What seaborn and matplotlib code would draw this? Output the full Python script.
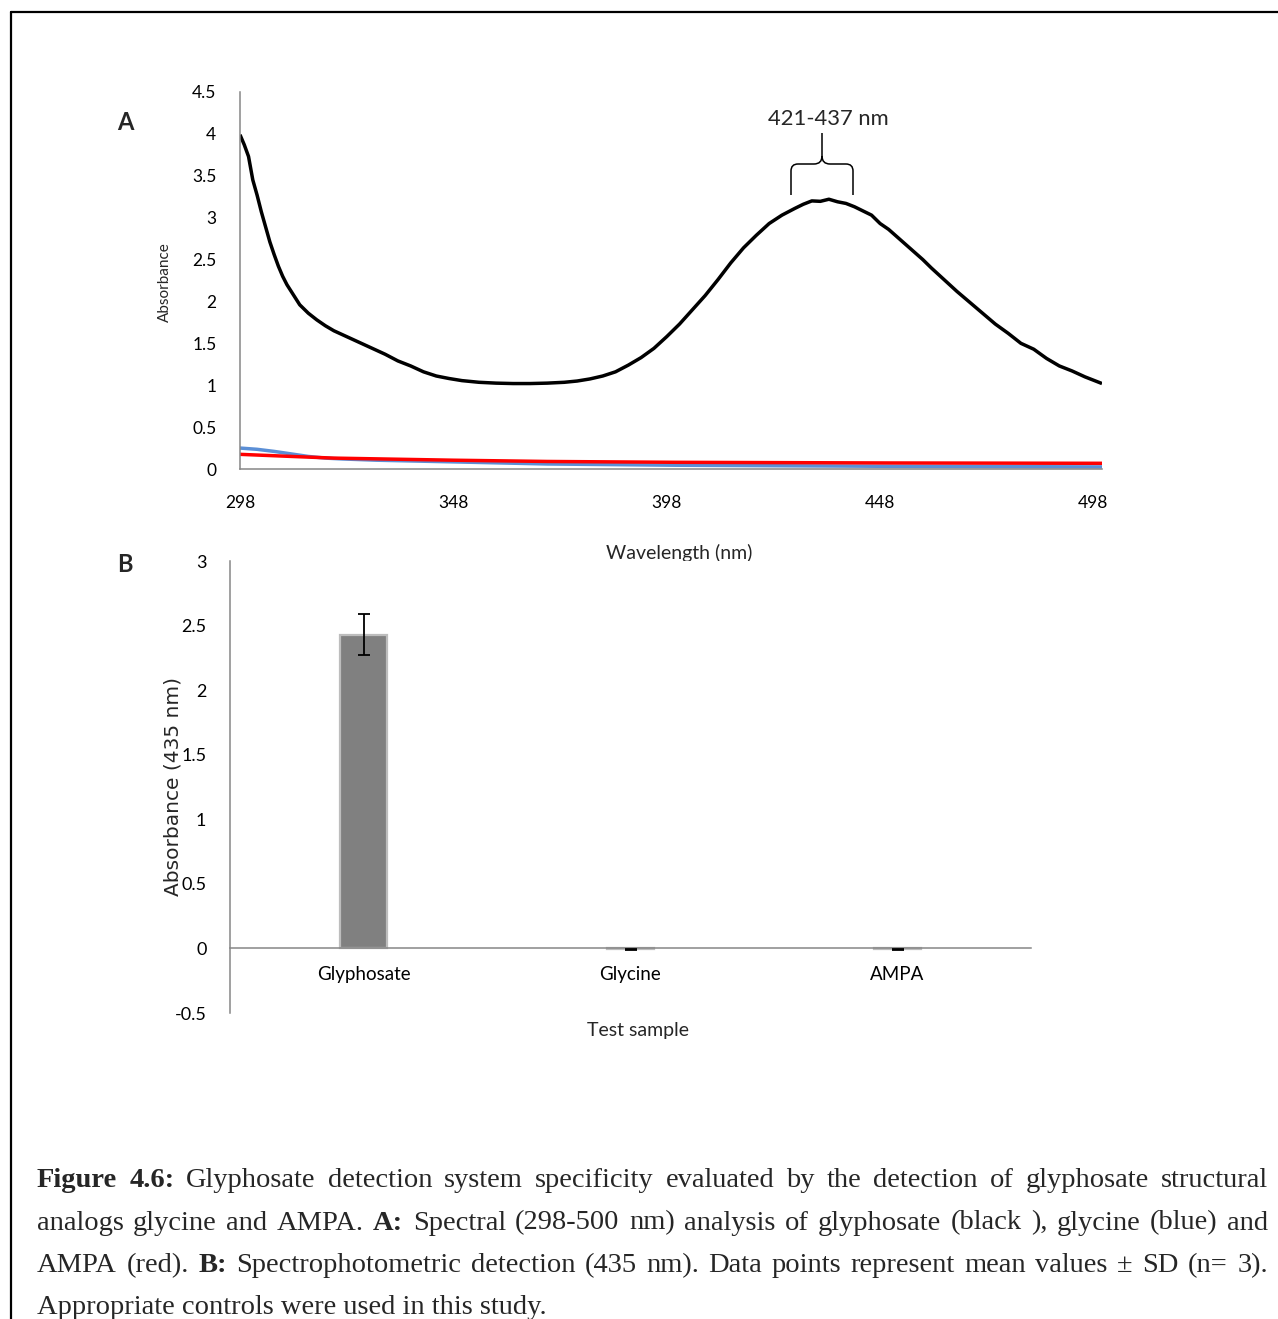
import numpy as np
import pandas as pd
import matplotlib
matplotlib.use("Agg")
import matplotlib.pyplot as plt
import seaborn as sns
from matplotlib.path import Path
from matplotlib.patches import PathPatch
from matplotlib.lines import Line2D

# ---------------- data ----------------
glyphosate_wl = [298, 299, 300, 301, 302, 303, 304, 305, 306, 307, 308, 309, 310, 311, 312, 314, 316,
                 318, 320, 323, 326, 329, 332, 335, 338, 341, 344, 347, 350, 354, 358, 362, 366,
                 370, 374, 377, 380, 383, 386, 389, 392, 395, 398, 401, 404, 407, 410, 413, 416,
                 419, 422, 425, 428, 430, 432, 434, 436, 438, 440, 442, 444, 446, 448, 450, 452,
                 454, 456, 458, 460, 463, 466, 469, 472, 475, 478, 481, 484, 487, 490, 493, 496,
                 499, 500]
glyphosate_abs = [3.99, 3.87, 3.73, 3.45, 3.27, 3.07, 2.89, 2.71, 2.56, 2.42, 2.30, 2.20, 2.12, 2.04,
                  1.96, 1.86, 1.78, 1.71, 1.65, 1.58, 1.51, 1.44, 1.37, 1.29, 1.23, 1.16, 1.11, 1.08,
                  1.055, 1.035, 1.025, 1.02, 1.02, 1.025, 1.035, 1.05, 1.075, 1.11, 1.16, 1.24, 1.33,
                  1.44, 1.58, 1.73, 1.90, 2.07, 2.26, 2.46, 2.64, 2.79, 2.93, 3.03, 3.11, 3.16, 3.20,
                  3.195, 3.22, 3.19, 3.17, 3.13, 3.08, 3.03, 2.93, 2.86, 2.77, 2.68, 2.59, 2.50, 2.40,
                  2.26, 2.12, 1.99, 1.86, 1.73, 1.62, 1.50, 1.43, 1.32, 1.23, 1.17, 1.10, 1.04, 1.02]
glycine_wl = [298, 302, 306, 310, 314, 318, 322, 330, 348, 370, 400, 450, 500]
glycine_abs = [0.25, 0.235, 0.21, 0.18, 0.15, 0.13, 0.12, 0.105, 0.085, 0.06, 0.045, 0.032, 0.025]
ampa_wl = [298, 310, 320, 348, 370, 400, 450, 500]
ampa_abs = [0.175, 0.15, 0.13, 0.105, 0.09, 0.08, 0.072, 0.068]

wl_ticks = [298, 348, 398, 448, 498]
absA_ticks = [0, 0.5, 1, 1.5, 2, 2.5, 3, 3.5, 4, 4.5]
absA_labels = ["0", "0.5", "1", "1.5", "2", "2.5", "3", "3.5", "4", "4.5"]

samples = ["Glyphosate", "Glycine", "AMPA"]
sample_mean = [2.43, -0.008, -0.008]
sample_sd = [0.16, 0.003, 0.006]
absB_ticks = [-0.5, 0, 0.5, 1, 1.5, 2, 2.5, 3]
absB_labels = ["-0.5", "0", "0.5", "1", "1.5", "2", "2.5", "3"]

caption_lines = [
    ([("Figure", "bold"), ("4.6:", "bold")] +
     [(w, "normal") for w in "Glyphosate detection system specificity evaluated by the detection of glyphosate structural".split()], True),
    ([(w, "normal") for w in "analogs glycine and AMPA.".split()] + [("A:", "bold")] +
     [(w, "normal") for w in "Spectral (298-500 nm) analysis of glyphosate (black ), glycine (blue) and".split()], True),
    ([(w, "normal") for w in "AMPA (red).".split()] + [("B:", "bold")] +
     [(w, "normal") for w in "Spectrophotometric detection (435 nm). Data points represent mean values ± SD (n= 3).".split()], True),
    ([("Appropriate controls were used in this study.", "normal")], False),
]

# ---------------- style ----------------
sns.set_style("white")
plt.rcParams['font.family'] = ['Lato', 'DejaVu Sans']
W, H = 1278, 1319
fig = plt.figure(figsize=(W / 100, H / 100), dpi=100)
fig.patch.set_facecolor("white")

AXC = "#868686"


def style_axes(ax, fs):
    for s in ["top", "right"]:
        ax.spines[s].set_visible(False)
    for s in ["left", "bottom"]:
        ax.spines[s].set_color(AXC)
        ax.spines[s].set_linewidth(1.1)
    ax.tick_params(axis="both", which="both", direction="out", color=AXC, width=1.0,
                   length=5, labelsize=fs, labelcolor="black")
    ax.set_facecolor("white")


# ---------------- Panel A ----------------
axA = fig.add_axes([240 / W, 1 - 469 / H, 862 / W, 377 / H])
line_kw = dict(linewidth=2.5, solid_capstyle="butt", solid_joinstyle="round")
sns.lineplot(x=glycine_wl, y=glycine_abs, color="#5B8FD6", ax=axA, **line_kw)
sns.lineplot(x=ampa_wl, y=ampa_abs, color="#FF0000", ax=axA, **line_kw)
sns.lineplot(x=glyphosate_wl, y=glyphosate_abs, color="black", ax=axA, **line_kw)
axA.set_xlim(298, 500)
axA.set_ylim(0, 4.5)
style_axes(axA, 12.5)
axA.set_xticks(wl_ticks)
axA.set_xticklabels([str(t) for t in wl_ticks])
axA.set_yticks(absA_ticks)
axA.set_yticklabels(absA_labels)
axA.tick_params(axis="x", pad=14)
axA.tick_params(axis="y", pad=12)
axA.set_xlabel("Wavelength (nm)", fontsize=14)
axA.set_ylabel("Absorbance", fontsize=11)
axA.xaxis.set_label_coords(0.51, -0.223)
axA.xaxis.label.set_va("center")
axA.yaxis.set_label_coords(-0.087, 0.496)
axA.yaxis.label.set_va("center")

# ---------------- Panel B ----------------
axB = fig.add_axes([230 / W, 1 - 1013 / H, 801 / W, 452 / H])
dfB = pd.DataFrame({"sample": samples, "mean": sample_mean})
sns.barplot(data=dfB, x="sample", y="mean", color="#808080", width=0.176,
            edgecolor="#BDBDBD", linewidth=1.6, errorbar=None, saturation=1, ax=axB)
axB.errorbar(x=np.arange(len(samples)), y=sample_mean, yerr=sample_sd, fmt="none",
             ecolor="black", elinewidth=1.3, capsize=4, capthick=1.3, zorder=5)
axB.set_xlim(-0.5, 2.5)
axB.set_ylim(-0.5, 3)
style_axes(axB, 13)
axB.spines["bottom"].set_position(("data", 0))
axB.set_yticks(absB_ticks)
axB.set_yticklabels(absB_labels)
axB.set_xticks(np.arange(len(samples)))
axB.set_xticklabels(samples)
axB.set_xticks([-0.5, 0.5, 1.5, 2.5], minor=True)
axB.tick_params(axis="x", which="major", length=0, pad=13, labelsize=13.5)
axB.tick_params(axis="x", which="minor", length=5)
axB.tick_params(axis="y", pad=12)
axB.set_xlabel("Test sample", fontsize=14)
axB.set_ylabel("Absorbance (435 nm)", fontsize=14.5, family=["DejaVu Sans"])
axB.xaxis.set_label_coords(0.509, -0.038)
axB.xaxis.label.set_va("center")
axB.yaxis.set_label_coords(-0.071, 0.502)
axB.yaxis.label.set_va("center")

# ---------------- panel letters & annotation ----------------
fig.text(125 / W, 1 - 122 / H, "A", fontsize=17, fontweight="bold", ha="center", va="center")
fig.text(125 / W, 1 - 565 / H, "B", fontsize=17, fontweight="bold", ha="center", va="center")
fig.text(828 / W, 1 - 119 / H, "421-437 nm", fontsize=15.8, ha="center", va="center")


def P(x, y):
    return (x / W, 1 - y / H)


brace = [
    (Path.MOVETO, P(791, 195)), (Path.LINETO, P(791, 171)),
    (Path.CURVE3, P(791, 164)), (Path.CURVE3, P(798, 164)),
    (Path.LINETO, P(814, 164)),
    (Path.CURVE3, P(822, 164)), (Path.CURVE3, P(822, 156)),
    (Path.LINETO, P(822, 133)),
    (Path.MOVETO, P(822, 156)),
    (Path.CURVE3, P(822, 164)), (Path.CURVE3, P(830, 164)),
    (Path.LINETO, P(846, 164)),
    (Path.CURVE3, P(853, 164)), (Path.CURVE3, P(853, 171)),
    (Path.LINETO, P(853, 195)),
]
codes, verts = zip(*brace)
fig.add_artist(PathPatch(Path(verts, codes), facecolor="none", edgecolor="black",
                         lw=1.1, transform=fig.transFigure))

# ---------------- border ----------------
fig.add_artist(Line2D([11 / W, 1.0], [1 - 12 / H, 1 - 12 / H], transform=fig.transFigure,
                      color="black", lw=1.6))
fig.add_artist(Line2D([11 / W, 11 / W], [0.0, 1 - 12 / H], transform=fig.transFigure,
                      color="black", lw=1.6))

# ---------------- caption (justified) ----------------
CAP_FS = 20.5
CAP_FAMILY = ["Liberation Serif", "DejaVu Serif"]
x_left, x_right = 37, 1268
baselines = [1187, 1229.5, 1272, 1313.5]
renderer = fig.canvas.get_renderer()
for (words, justify), yb in zip(caption_lines, baselines):
    texts = [fig.text(0, 1 - yb / H, w, fontsize=CAP_FS, fontweight=wt, family=CAP_FAMILY,
                      ha="left", va="baseline") for w, wt in words]
    widths = [t.get_window_extent(renderer=renderer).width for t in texts]
    if justify and len(texts) > 1:
        gap = (x_right - x_left - sum(widths)) / (len(texts) - 1)
    else:
        gap = 5
    x = x_left
    for t, wd in zip(texts, widths):
        t.set_x(x / W)
        x += wd + gap

fig.savefig("out.png", dpi=100, facecolor="white")
